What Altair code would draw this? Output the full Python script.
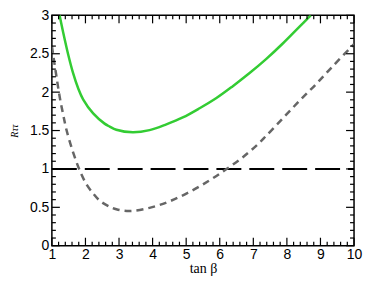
import altair as alt
import pandas as pd
import numpy as np

# --- data ---
green_x = [1.22, 1.34, 1.48, 1.63, 1.78, 1.93, 2.23, 2.57, 2.72, 2.92, 3.41, 3.91, 4.41, 4.90, 5.40, 5.89, 6.38, 6.88, 7.38, 7.87, 8.37, 8.71]
green_y = [3.02, 2.77, 2.50, 2.25, 2.054, 1.907, 1.723, 1.590, 1.552, 1.510, 1.477, 1.505, 1.58, 1.67, 1.79, 1.92, 2.075, 2.245, 2.43, 2.63, 2.85, 3.00]

gray_x = [1.00, 1.12, 1.24, 1.34, 1.44, 1.63, 1.83, 2.03, 2.23, 2.43, 2.67, 2.92, 3.32, 3.91, 4.50, 5.10, 5.69, 6.19, 6.68, 7.13, 7.38, 7.87, 8.37, 8.86, 9.35, 9.90, 10.0]
gray_y = [2.60, 2.25, 1.92, 1.70, 1.50, 1.22, 0.98, 0.80, 0.68, 0.585, 0.52, 0.475, 0.452, 0.493, 0.577, 0.70, 0.85, 0.995, 1.15, 1.32, 1.43, 1.655, 1.885, 2.10, 2.33, 2.58, 2.625]

ref_x = [1, 10]
ref_y = [1, 1]

x_range = [1, 10]
y_range = [0, 3]
x_major = [1, 2, 3, 4, 5, 6, 7, 8, 9, 10]
y_major = [0, 0.5, 1, 1.5, 2, 2.5, 3]
x_minor = [round(v, 1) for v in np.arange(1, 10.001, 0.2) if abs(v - round(v)) > 1e-6]
y_minor = [round(v, 1) for v in np.arange(0, 3.001, 0.1) if abs(v * 2 - round(v * 2)) > 1e-6]

W, H = 303, 231

xs = alt.Scale(domain=x_range, nice=False, zero=False)
ys = alt.Scale(domain=y_range, nice=False, zero=False)

x_axis = alt.Axis(values=x_major, format="d", title="tan β", labelPadding=2,
                  titleFont="Liberation Serif", titleFontSize=14, titleFontWeight="normal",
                  titleY=27, titleBaseline="alphabetic", labelFlush=False, labelOverlap=False)
y_axis = alt.Axis(values=y_major, format="~g", title="Rττ", labelPadding=3,
                  titleFont="Liberation Serif", titleFontSize=10, titleFontStyle="italic",
                  titleFontWeight="normal", titleAngle=270, titleX=-37, titleY=H / 2,
                  titleAlign="center", titleBaseline="middle", labelFlush=False, labelOverlap=False)

df_green = pd.DataFrame({"x": green_x, "y": green_y})
df_gray = pd.DataFrame({"x": gray_x, "y": gray_y})
df_ref = pd.DataFrame({"x": ref_x, "y": ref_y})

green = alt.Chart(df_green).mark_line(color="#33cc33", strokeWidth=2.5, interpolate="catmull-rom", clip=True).encode(
    x=alt.X("x:Q", scale=xs, axis=x_axis), y=alt.Y("y:Q", scale=ys, axis=y_axis))
gray = alt.Chart(df_gray).mark_line(color="#666666", strokeWidth=2.5, strokeDash=[7, 5], interpolate="catmull-rom", clip=True).encode(
    x=alt.X("x:Q", scale=xs, axis=x_axis), y=alt.Y("y:Q", scale=ys, axis=y_axis))
ref = alt.Chart(df_ref).mark_line(color="black", strokeWidth=2, strokeDash=[25, 8]).encode(
    x=alt.X("x:Q", scale=xs, axis=x_axis), y=alt.Y("y:Q", scale=ys, axis=y_axis))


def xticks(vals, length):
    d = pd.DataFrame({"x": vals})
    bottom = alt.Chart(d).mark_rule(color="black", strokeWidth=1.2).encode(
        x=alt.X("x:Q", scale=xs, axis=x_axis), y=alt.value(H), y2=alt.value(H - length))
    top = alt.Chart(d).mark_rule(color="black", strokeWidth=1.2).encode(
        x=alt.X("x:Q", scale=xs, axis=x_axis), y=alt.value(0), y2=alt.value(length))
    return [bottom, top]


def yticks(vals, length):
    d = pd.DataFrame({"y": vals})
    left = alt.Chart(d).mark_rule(color="black", strokeWidth=1.2).encode(
        y=alt.Y("y:Q", scale=ys, axis=y_axis), x=alt.value(0), x2=alt.value(length))
    right = alt.Chart(d).mark_rule(color="black", strokeWidth=1.2).encode(
        y=alt.Y("y:Q", scale=ys, axis=y_axis), x=alt.value(W), x2=alt.value(W - length))
    return [left, right]


layers = [ref, gray, green] + xticks(x_major, 8) + xticks(x_minor, 4) + yticks(y_major, 8) + yticks(y_minor, 4)

chart = alt.layer(*layers).properties(
    width=W, height=H,
    autosize=alt.AutoSizeParams(type="none"),
    padding={"left": 44, "top": 7, "right": 12, "bottom": 32},
).configure_view(
    stroke="black", strokeWidth=1.5
).configure_axis(
    domain=False, ticks=False, grid=False,
    labelFont="Liberation Sans", labelFontSize=14, labelColor="black", titleColor="black"
)

chart.save("out.html", embed_options={"renderer": "svg", "actions": False})
